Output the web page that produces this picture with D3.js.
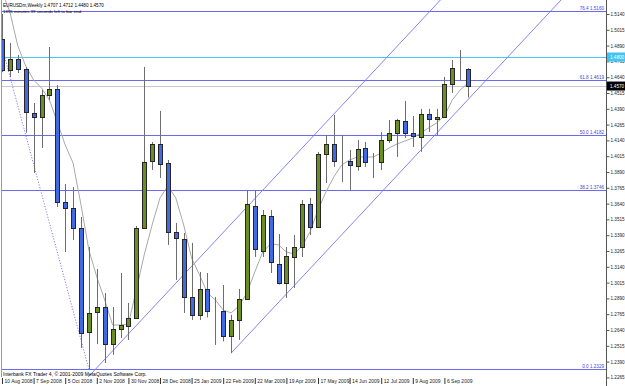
<!DOCTYPE html>
<html>
<head>
<meta charset="utf-8">
<script src="https://cdn.jsdelivr.net/npm/d3@7"></script>
<style>
  body { margin: 0; background: #fff; }
  svg { display: block; font-family: "Liberation Sans", Arial, sans-serif; }
</style>
</head>
<body>
<div id="chart"></div>
<script>
// EURUSDm weekly bars (week start dates)
const weeks = [
  "2008-08-10","2008-08-17","2008-08-24","2008-08-31","2008-09-07","2008-09-14","2008-09-21","2008-09-28",
  "2008-10-05","2008-10-12","2008-10-19","2008-10-26","2008-11-02","2008-11-09","2008-11-16","2008-11-23",
  "2008-11-30","2008-12-07","2008-12-14","2008-12-21","2008-12-28","2009-01-04","2009-01-11","2009-01-18",
  "2009-01-25","2009-02-01","2009-02-08","2009-02-15","2009-02-22","2009-03-01","2009-03-08","2009-03-15",
  "2009-03-22","2009-03-29","2009-04-05","2009-04-12","2009-04-19","2009-04-26","2009-05-03","2009-05-10",
  "2009-05-17","2009-05-24","2009-05-31","2009-06-07","2009-06-14","2009-06-21","2009-06-28","2009-07-05",
  "2009-07-12","2009-07-19","2009-07-26","2009-08-02","2009-08-09","2009-08-16","2009-08-23","2009-08-30",
  "2009-09-06","2009-09-13","2009-09-20","2009-09-27"
];
const open = [
  1.4942,1.4697,1.4784,1.4705,1.4357,1.4325,1.4499,1.4547,1.3653,1.3605,1.3447,1.2625,1.2783,1.2822,1.2529,1.2648,
  1.2672,1.2735,1.3447,1.3977,1.4112,1.3961,1.3416,1.3360,1.2901,1.2759,1.2965,1.2791,1.2791,1.2593,1.2720,1.2886,
  1.3621,1.3265,1.3542,1.3162,1.3012,1.3218,1.3297,1.3637,1.3455,1.4033,1.4112,1.3977,1.3977,1.3938,1.4080,1.3969,
  1.3966,1.4143,1.4199,1.4294,1.4199,1.4167,1.4349,1.4309,1.4325,1.4586,1.4713,1.4707
];
const high = [
  1.5140,1.4911,1.4816,1.4720,1.4436,1.4539,1.4879,1.4578,1.3795,1.3771,1.3534,1.3297,1.3123,1.2933,1.2822,1.3091,
  1.2854,1.3463,1.4721,1.4127,1.4373,1.3985,1.3487,1.3408,1.3329,1.3099,1.3091,1.2902,1.2996,1.2760,1.2965,1.3748,
  1.3748,1.3590,1.3590,1.3400,1.3297,1.3392,1.3669,1.3685,1.4049,1.4183,1.4341,1.4183,1.4064,1.4144,1.4128,1.4040,
  1.4207,1.4302,1.4310,1.4452,1.4333,1.4389,1.4389,1.4389,1.4642,1.4776,1.4855,1.4712
];
const low = [
  1.4680,1.4642,1.4673,1.4201,1.3882,1.4080,1.4460,1.3613,1.3257,1.3352,1.2498,1.2329,1.2529,1.2379,1.2443,1.2577,
  1.2561,1.2735,1.3439,1.3906,1.3843,1.3313,1.3036,1.2775,1.2720,1.2720,1.2740,1.2522,1.2550,1.2457,1.2561,1.2878,
  1.3218,1.3218,1.3091,1.3000,1.2893,1.2973,1.3218,1.3392,1.3447,1.3803,1.3930,1.3811,1.3748,1.3900,1.3930,1.3843,
  1.3906,1.4120,1.4009,1.4159,1.4088,1.4049,1.4207,1.4183,1.4317,1.4515,1.4618,1.4480
];
const close = [
  1.4697,1.4784,1.4705,1.4365,1.4325,1.4499,1.4547,1.3653,1.3605,1.3447,1.2617,1.2775,1.2822,1.2529,1.2648,1.2680,
  1.2735,1.3447,1.3969,1.4112,1.3953,1.3416,1.3368,1.2901,1.2759,1.2965,1.2791,1.2789,1.2593,1.2720,1.2886,1.3637,
  1.3281,1.3550,1.3178,1.3012,1.3226,1.3297,1.3637,1.3455,1.4033,1.4112,1.3977,1.3980,1.3946,1.4072,1.3969,1.3966,
  1.4143,1.4199,1.4302,1.4199,1.4175,1.4349,1.4309,1.4325,1.4586,1.4713,1.4710,1.4570
];
// moving average line
const maLine = [
  1.5314,1.5156,1.4887,1.4729,1.4618,1.4555,1.4460,1.4286,1.4104,1.3961,1.3629,1.3273,1.3060,1.2878,1.2680,1.2680,
  1.2688,1.2957,1.3234,1.3471,1.3685,1.3779,1.3685,1.3471,1.3210,1.3076,1.2933,1.2878,1.2799,1.2775,1.2830,1.2933,
  1.3099,1.3257,1.3321,1.3313,1.3257,1.3242,1.3305,1.3416,1.3590,1.3732,1.3851,1.3946,1.3985,1.4009,1.4009,1.4009,
  1.4041,1.4080,1.4112,1.4135,1.4159,1.4199,1.4239,1.4278,1.4333,1.4460,1.4539,1.4594
];

// price scale labels
const priceTicks = [1.5140,1.5015,1.4890,1.4765,1.4640,1.4515,1.4390,1.4265,1.4140,1.4015,1.3890,1.3765,
  1.3640,1.3515,1.3390,1.3265,1.3140,1.3015,1.2890,1.2765,1.2640,1.2515,1.2390,1.2265];
// time scale labels (every 4th week)
const timeTicks = ["2008-08-10","2008-09-07","2008-10-05","2008-11-02","2008-11-30","2008-12-28","2009-01-25",
  "2009-02-22","2009-03-22","2009-04-19","2009-05-17","2009-06-14","2009-07-12","2009-08-09","2009-09-06"];

// fibo retracement levels
const fibNames = ["76.4","61.8","50.0","38.2","0.0"];
const fibPrices = [1.5160,1.4619,1.4182,1.3746,1.2329];
const fibTrend = [["2008-07-06",1.6038],["2008-10-26",1.2329]];
// channel lines (anchor points)
const chanLow = [["2009-03-01",1.2457],["2009-07-12",1.3728]];
const chanHigh = [["2008-11-02",1.2341],["2009-06-07",1.4415]];
const alertPrice = 1.4800;
const lastPrice = 1.4570;

const width = 625, height = 386;
const plotRight = 606, plotBottom = 377;

const parseDate = d3.utcParse("%Y-%m-%d");
const x = d3.scaleUtc()
  .domain([parseDate(weeks[0]), parseDate(weeks[weeks.length - 1])])
  .range([2, 468.1]);
const y = d3.scaleLinear().domain([1.2265, 1.5140]).range([377.4, 14]);

const svg = d3.select("#chart").append("svg")
  .attr("width", width).attr("height", height);

svg.append("defs").append("clipPath").attr("id", "plot")
  .append("rect").attr("x", 1.5).attr("y", 0)
  .attr("width", plotRight - 1.5).attr("height", plotBottom);

const plot = svg.append("g").attr("clip-path", "url(#plot)");

// left border
svg.append("line").attr("x1", 1.5).attr("x2", 1.5).attr("y1", 0).attr("y2", plotBottom)
  .attr("stroke", "#9a9a9a");

// fibo levels
fibPrices.forEach((p, i) => {
  const yy = Math.round(y(p)) + 0.5;
  plot.append("line").attr("x1", 0).attr("x2", plotRight).attr("y1", yy).attr("y2", yy)
    .attr("stroke", "#6a6af0").attr("stroke-width", 1);
  plot.append("text").attr("x", plotRight - 2).attr("y", yy - 1.5)
    .attr("text-anchor", "end").attr("font-size", 4.6).attr("fill", "#4646d2")
    .text(fibNames[i] + "  " + p.toFixed(4));
});

// alert line + last price line
plot.append("line").attr("x1", 0).attr("x2", plotRight)
  .attr("y1", Math.round(y(alertPrice)) + 0.5).attr("y2", Math.round(y(alertPrice)) + 0.5)
  .attr("stroke", "#44c8f5");
plot.append("line").attr("x1", 0).attr("x2", plotRight)
  .attr("y1", Math.round(y(lastPrice)) + 0.5).attr("y2", Math.round(y(lastPrice)) + 0.5)
  .attr("stroke", "#c8c8c8");

// lines from two anchor points, extended to the right (and left if asked)
function anchorLine(pts, fromX, toX) {
  const ax = x(parseDate(pts[0][0])), ay = y(pts[0][1]);
  const bx = x(parseDate(pts[1][0])), by = y(pts[1][1]);
  const k = (by - ay) / (bx - ax);
  const x0 = fromX == null ? ax : fromX;
  const x1 = toX == null ? bx : toX;
  return [[x0, ay + k * (x0 - ax)], [x1, ay + k * (x1 - ax)]];
}
const line = d3.line();
plot.append("path").attr("d", line(anchorLine(chanLow, null, 700)))
  .attr("fill", "none").attr("stroke", "#7676f4").attr("stroke-width", 0.9);
plot.append("path").attr("d", line(anchorLine(chanHigh, -50, 700)))
  .attr("fill", "none").attr("stroke", "#7676f4").attr("stroke-width", 0.9);
plot.append("path").attr("d", line(anchorLine(fibTrend, null, null)))
  .attr("fill", "none").attr("stroke", "#7070e8").attr("stroke-width", 0.9)
  .attr("stroke-dasharray", "1.2,1.6");

// moving average
plot.append("path")
  .attr("d", d3.line().x((d, i) => x(parseDate(weeks[i]))).y((d) => y(d))(maLine))
  .attr("fill", "none").attr("stroke", "#a9a9a9").attr("stroke-width", 1);

// candles
const bars = weeks.map((w, i) => ({ date: parseDate(w), o: open[i], h: high[i], l: low[i], c: close[i] }));
const g = plot.selectAll("g.bar").data(bars).enter().append("g").attr("class", "bar");

g.append("line")
  .attr("x1", (d) => Math.round(x(d.date)) + 0.5)
  .attr("x2", (d) => Math.round(x(d.date)) + 0.5)
  .attr("y1", (d) => y(d.h))
  .attr("y2", (d) => y(d.l))
  .attr("stroke", "#6e6e6e");

g.append("rect")
  .attr("x", (d) => Math.round(x(d.date)) - 2 + 0.5)
  .attr("y", (d) => Math.round(y(Math.max(d.o, d.c))) + 0.5)
  .attr("width", 4)
  .attr("height", (d) => Math.max(0, Math.round(Math.abs(y(d.o) - y(d.c)))))
  .attr("fill", (d) => (d.c >= d.o ? "#6b8e23" : "#4169e1"))
  .attr("stroke", "#262626")
  .attr("stroke-width", 1);

// texts inside the chart
svg.append("text").attr("x", 3).attr("y", 6.5).attr("font-size", 4.6).attr("fill", "#000")
  .text("EURUSDm,Weekly  1.4707 1.4712 1.4480 1.4570");
svg.append("text").attr("x", 3).attr("y", 12.5).attr("font-size", 4.4).attr("fill", "#000")
  .text("1895 minutes 39 seconds left to bar end");
svg.append("text").attr("x", 3).attr("y", 375.5).attr("font-size", 5).attr("fill", "#000")
  .text("Interbank FX Trader 4, \u00a9 2001-2009 MetaQuotes Software Corp.");

// price axis
svg.append("line").attr("x1", plotRight + 0.5).attr("x2", plotRight + 0.5).attr("y1", 0).attr("y2", height)
  .attr("stroke", "#555");
const yAxis = d3.axisRight(y).tickValues(priceTicks).tickSize(3).tickFormat(d3.format(".4f"));
const ya = svg.append("g").attr("transform", `translate(${plotRight + 0.5},0)`).call(yAxis);
ya.select(".domain").remove();
ya.selectAll("line").attr("stroke", "#555");
ya.selectAll("text").attr("x", 4).attr("font-size", 4.6).attr("fill", "#222")
  .attr("font-family", "Liberation Sans, Arial, sans-serif");

// price boxes on the axis
[[alertPrice, "#40c4f2"], [lastPrice, "#000"]].forEach(([p, col]) => {
  const yy = y(p);
  svg.append("rect").attr("x", plotRight + 1).attr("y", yy - 4.5).attr("width", width - plotRight - 1)
    .attr("height", 9).attr("fill", col);
  svg.append("text").attr("x", plotRight + 4).attr("y", yy).attr("dy", "0.35em")
    .attr("font-size", 4.6).attr("fill", "#fff").text(p.toFixed(4));
});

// time axis
const xAxis = d3.axisBottom(x).tickValues(timeTicks.map(parseDate)).tickSize(6)
  .tickFormat(d3.utcFormat("%-d %b %Y"));
const xa = svg.append("g").attr("transform", `translate(0,${plotBottom + 1})`).call(xAxis);
xa.select(".domain").remove();
xa.selectAll("line").attr("stroke", "#333");
xa.selectAll("text").attr("x", 2).attr("y", 1.5).attr("text-anchor", "start")
  .attr("font-size", 5).attr("fill", "#222")
  .attr("font-family", "Liberation Sans, Arial, sans-serif");
</script>
</body>
</html>
